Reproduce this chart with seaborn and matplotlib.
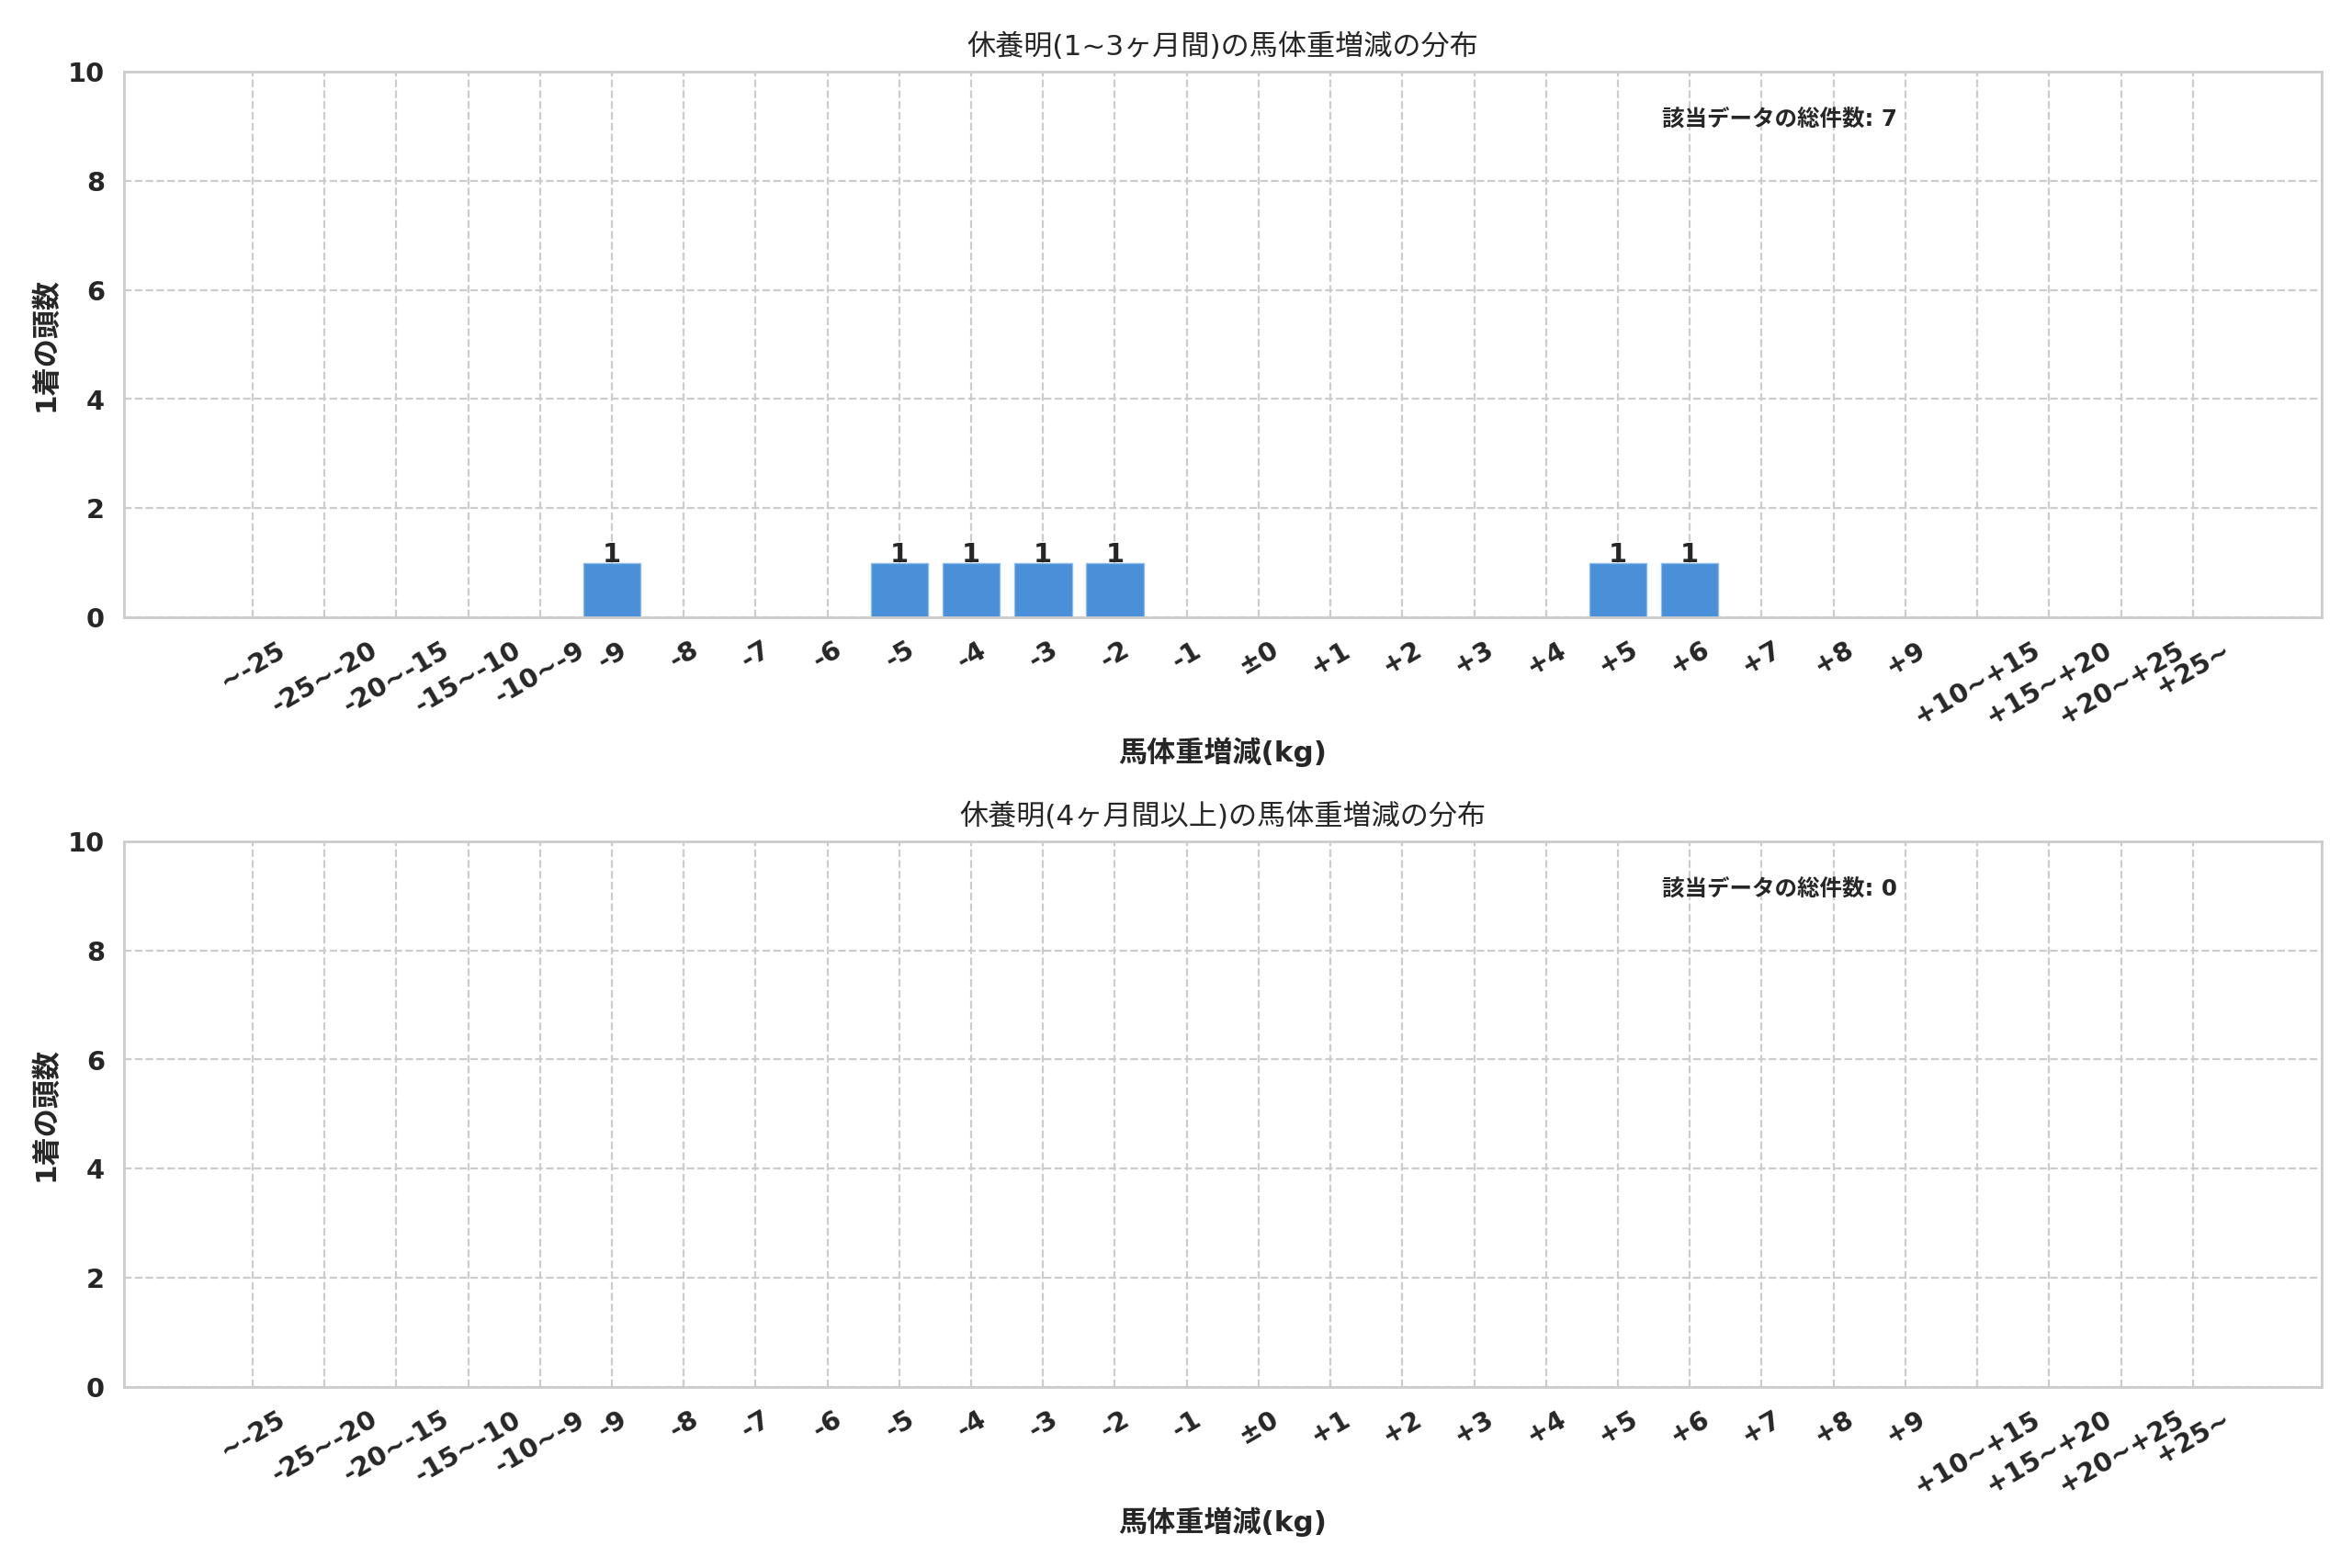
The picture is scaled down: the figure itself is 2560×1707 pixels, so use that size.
import matplotlib
matplotlib.use("Agg")
import matplotlib.pyplot as plt
import seaborn as sns
import pandas as pd

categories = ["~-25", "-25~-20", "-20~-15", "-15~-10", "-10~-9", "-9", "-8", "-7", "-6",
              "-5", "-4", "-3", "-2", "-1", "±0", "+1", "+2", "+3", "+4", "+5", "+6",
              "+7", "+8", "+9", "+10~+15", "+15~+20", "+20~+25", "+25~"]
counts_short = [0, 0, 0, 0, 0, 1, 0, 0, 0, 1, 1, 1, 1, 0, 0, 0, 0, 0, 0, 1, 1, 0, 0, 0, 0, 0, 0, 0]
counts_long = [0] * len(categories)

titles = ["休養明(1~3ヶ月間)の馬体重増減の分布", "休養明(4ヶ月間以上)の馬体重増減の分布"]
xlabel = "馬体重増減(kg)"
ylabel = "1着の頭数"
total_label = "該当データの総件数"
yticks = [0, 2, 4, 6, 8, 10]
bar_color = "#4A90D9"

sns.set_theme(style="whitegrid")
plt.rcParams["font.family"] = ["DejaVu Sans", "Noto Sans CJK JP"]

fig, axes = plt.subplots(2, 1, figsize=(16, 10.669), dpi=160)
fig.subplots_adjust(left=0.0527, right=0.987, top=0.9543, bottom=0.1154, hspace=0.41)

n = len(categories)
for ax, counts, title in zip(axes, [counts_short, counts_long], titles):
    df = pd.DataFrame({"cat": categories, "count": counts})
    sns.barplot(data=df, x="cat", y="count", order=categories, color=bar_color,
                saturation=1, width=0.8, ax=ax, edgecolor="#8fbbe8", linewidth=0.6)
    cont = ax.containers[0]
    labels = [str(v) if v > 0 else "" for v in counts]
    ax.bar_label(cont, labels=labels, padding=-2.5, fontsize=13, fontweight="bold",
                 color="#262626")
    ax.set_xlim(-1.79, n - 1 + 1.79)
    ax.set_ylim(0, 10)
    ax.set_yticks(yticks)
    ax.grid(True, linestyle="--", color="#cccccc", linewidth=1.0)
    ax.set_axisbelow(True)
    ax.set_title(title, fontsize=14, pad=8)
    ax.set_xlabel(xlabel, fontsize=14, fontweight="bold")
    ax.set_ylabel(ylabel, fontsize=14, fontweight="bold")
    ax.set_xticks(range(n))
    ax.set_xticklabels(categories, rotation=30, ha="center", fontsize=13, fontweight="bold")
    for lab in ax.get_yticklabels():
        lab.set_fontweight("bold")
        lab.set_fontsize(13)
    for sp in ax.spines.values():
        sp.set_color("#cccccc")
    ax.text(0.70, 0.913, f"{total_label}: {sum(counts)}", transform=ax.transAxes,
            fontsize=11, fontweight="bold", va="center", ha="left", color="#262626")

fig.savefig("out.png", dpi=160)
